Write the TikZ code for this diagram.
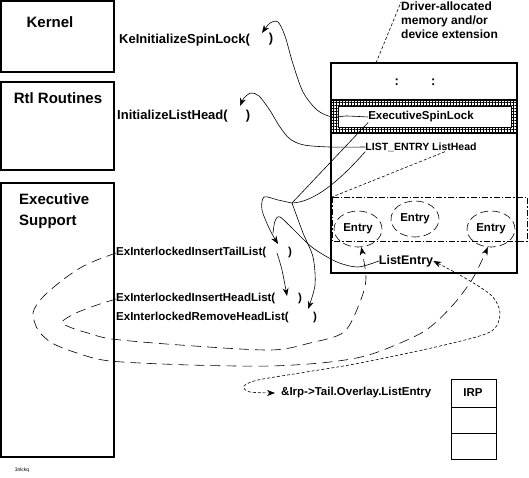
\documentclass[tikz,border=0pt]{standalone}
\usepackage{fontspec}
\setmainfont{Liberation Sans}
\usetikzlibrary{arrows.meta,shapes.geometric,patterns.meta}

\begin{document}
\begin{tikzpicture}[x=1pt,y=-1pt,
	call/.style={font=\fontsize{11.5}{14}\selectfont\bfseries, inner sep=0pt},
	bigcall/.style={call, font=\fontsize{13}{15}\selectfont\bfseries},
	boxtitle/.style={font=\fontsize{15}{21}\selectfont\bfseries, inner sep=0pt, align=left},
	wire/.style={line width=0.6pt},
	arrowed/.style={-{Stealth[length=8pt,width=6pt]}},
	longdash/.style={line width=0.6pt, dash pattern=on 10pt off 6pt},
	fine/.style={line width=0.6pt, dash pattern=on 3pt off 2pt},
	entry/.style={ellipse, draw, line width=0.6pt, dash pattern=on 8pt off 4pt, minimum width=48pt, minimum height=36pt, inner sep=0pt, font=\fontsize{11.5}{13}\selectfont\bfseries}]
	
	\useasboundingbox (0,0) rectangle (529,477);
	
	% the three layers on the left
	\draw[line width=1.6pt] (1,1) rectangle (114,72);
	\draw[line width=1.6pt] (1,82) rectangle (114,170);
	\draw[line width=1.6pt] (1,183) rectangle (114,457);
	
	\node[boxtitle] (kern) at (50,22) {Kernel};
	\node[boxtitle] (rtl) at (58,98) {Rtl Routines};
	\node[boxtitle, anchor=west] (exec) at (19,211) {Executive\\Support};
	\node[font=\fontsize{5}{6}\selectfont] (tag) at (22,470) {3nlckq};
	
	% driver memory
	\draw[line width=1.6pt] (331,63) rectangle (517,273);
	\node[call, font=\fontsize{13}{15}\selectfont\bfseries] (dots) at (415,82) {:\hspace{32pt}:};
	
	\fill[pattern={Hatch[angle=0,distance=3pt,line width=0.5pt]}] (331,100) rectangle (517,133);
	\draw[line width=1.2pt] (331,100) -- (517,100);
	\draw[line width=1.2pt] (331,133) -- (517,133);
	\draw[fill=white, line width=0.8pt] (338,106) rectangle (511,127);
	
	\node[call] (spin) at (421,117) {ExecutiveSpinLock};
	\node[call, font=\fontsize{10.5}{13}\selectfont\bfseries] (lhead) at (421,147) {LIST\_ENTRY ListHead};
	\node[call, font=\fontsize{12}{14}\selectfont\bfseries, anchor=north west, align=left] (drv) at (401,2) {Driver-allocated\\memory and/or\\device extension};
	
	\draw[line width=0.6pt, dash pattern=on 6pt off 2pt on 1.5pt off 2pt] (332,197) rectangle (527,241);
	\coordinate (chain) at (332,197);
	
	\node[entry] (e1) at (358,229) {Entry};
	\node[entry] (e2) at (415,219) {Entry};
	\node[entry] (e3) at (491,229) {Entry};
	\node[call, font=\fontsize{12.5}{14}\selectfont\bfseries] (lent) at (406,261) {ListEntry};
	
	% calls
	\node[bigcall, anchor=west] (kinit) at (119,40) {KeInitializeSpinLock(};
	\node[bigcall] (kclose) at (271,39) {)};
	\node[bigcall, anchor=west] (linit) at (117,116) {InitializeListHead(};
	\node[bigcall] (lclose) at (248,116) {)};
	\node[call, anchor=west] (tail) at (116,253) {ExInterlockedInsertTailList(};
	\node[call] (tclose) at (290,253) {)};
	\node[call, anchor=west] (head) at (116,299) {ExInterlockedInsertHeadList(};
	\node[call] (hclose) at (300,299) {)};
	\node[call, anchor=west] (remv) at (116,318) {ExInterlockedRemoveHeadList(};
	\node[call] (rclose) at (315,318) {)};
	\node[call, anchor=west] (irpent) at (281,393) {\&Irp->Tail.Overlay.ListEntry};
	
	% IRP
	\draw[line width=0.8pt] (451,379) rectangle (496,459);
	\draw[line width=0.8pt] (451,407) -- (496,407);
	\draw[line width=0.8pt] (451,433) -- (496,433);
	\node[call] (irp) at (473,393) {IRP};
	
	\coordinate (kslot) at (262,33);
	\coordinate (lslot) at (240,106);
	\coordinate (tslot) at (278,244);
	\coordinate (tgap) at (277,253);
	\coordinate (hslot) at (287,296);
	\coordinate (rslot) at (308,309);
	\coordinate (fork) at (292,203);
	\coordinate (bend) at (273,233);
	\coordinate (memtop) at (376,63);
	
	% arguments
	\draw[wire, arrowed] plot[smooth] coordinates {(spin.west) (346,116) (332,117) (317,110) (303,92) (293,64) (285,36) (278,22) (270,23) (kslot)};
	\draw[wire, arrowed] plot[smooth] coordinates {(lhead.west) (330,147) (304,145) (290,139) (280,127) (269,109) (259,96) (251,93) (244,98) (lslot)};
	
	\draw[wire] (fork) -- (spin.south west);
	\draw[wire] (fork) .. controls (315,202) and (340,180) .. (lhead.south west);
	\draw[wire, arrowed] plot[smooth] coordinates {(fork) (278,200) (264,197) (262,210) (270,230) (tslot)};
	\draw[wire] plot[smooth] coordinates {(bend) (275,221) (280,217) (295,231) (313,248) (337,262) (358,267) (lent.west)};
	\draw[wire, arrowed] plot[smooth] coordinates {(tgap) (282,270) (hslot)};
	\draw[wire, arrowed] plot[smooth] coordinates {(fork) (303,233) (313,257) (315,285) (rslot)};
	
	% where the entries go
	\draw[longdash, arrowed] plot[smooth] coordinates {(tail.west) (97,260) (80,268) (60,282) (42,298) (33,313) (38,330) (52,343) (77,353) (110,361) (190,365) (270,366) (330,362) (372,354) (423,332) (452,306) (473,278) (e3.-100)};
	\draw[longdash, arrowed] plot[smooth] coordinates {(head.west) (97,305) (76,313) (62,322) (72,328) (88,333) (112,339) (180,345) (270,350) (310,343) (344,332) (360,302) (366,278) (e1.-80)};
	\draw[fine, {Stealth[length=8pt,width=6pt]}-{Stealth[length=8pt,width=6pt]}, shorten >=6pt] plot[smooth] coordinates {(lent.east) (465,278) (492,296) (500,314) (490,332) (440,346) (360,363) (300,373) (258,380) (244,386) (250,392) (irpent.west)};
	
	\draw[fine] (memtop) -- (drv.north west);
	\draw[fine] ([xshift=24pt]lhead.south) -- (chain);
	
\end{tikzpicture}
\end{document}
